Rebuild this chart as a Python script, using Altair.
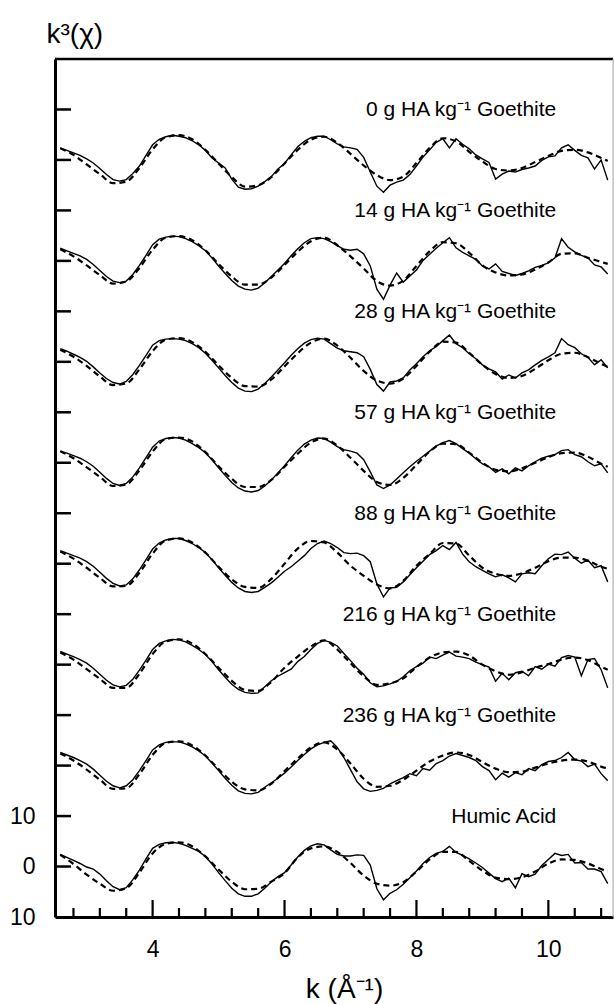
import altair as alt
import pandas as pd

# ---------------- data ----------------
K = [round(2.6 + 0.1 * i, 1) for i in range(84)]                 # measured spectra grid
K_FIT = [round(2.6 + 0.2 * i, 1) for i in range(42)] + [10.9]     # fitted curves grid

NAMES = [
    "0 g HA kg\u207b\u00b9 Goethite",
    "14 g HA kg\u207b\u00b9 Goethite",
    "28 g HA kg\u207b\u00b9 Goethite",
    "57 g HA kg\u207b\u00b9 Goethite",
    "88 g HA kg\u207b\u00b9 Goethite",
    "216 g HA kg\u207b\u00b9 Goethite",
    "236 g HA kg\u207b\u00b9 Goethite",
    "Humic Acid",
]
OFFSETS = [140, 120, 100, 80, 60, 40, 20, 0]

EXP_0 = [2.4, 1.9, 1.4, 0.9, 0.2, -0.6, -1.7, -2.9, -3.9, -4.2, -3.9, -2.7, -1.2, 0.9, 3.0, 4.1, 4.6, 4.9, 4.7, 4.4,
         3.8, 3.0, 1.9, 0.4, -0.6, -1.6, -3.8, -5.4, -5.8, -5.7, -5.2, -4.3, -3.3, -1.8,
         -0.7, 1.0, 2.6, 3.7, 4.4, 4.7, 4.7, 4.0, 3.2, 2.6,
         2.4, 2.1, 0.5, -2.4, -5.2, -6.4, -5.0, -4.4, -4.0, -2.9,
         -1.2, 0.6, 2.0, 3.5, 4.2, 2.4, 4.2, 3.1, 2.2, 1.0,
         0.2, -0.5, -3.8, -2.8, -2.2, -2.4, -1.9, -1.6, -1.2, -0.1,
         0.6, 0.8, 2.4, 3.0, 1.9, 0.9, 0.4, -1.8, 0.0, -4.0]
FIT_0 = [2.3, 1.0, -0.9, -2.8, -4.6, -4.3, -1.6, 2.1, 4.5, 4.9, 4.1, 2.0, -0.7, -3.4, -5.3, -5.0, -3.4,
         -0.7, 2.0, 4.0, 4.6, 3.4,
         1.2, -1.1, -3.0, -4.0, -3.3, -0.6, 2.4, 4.3, 3.7, 1.6,
         -0.3, -1.8, -2.1, -1.6, -0.4, 0.8, 1.8, 2.0, 1.5, 0.4, -0.2]

EXP_14 = [2.5, 2.0, 1.5, 1.0, 0.3, -0.7, -1.9, -3.1, -4.0, -4.3, -4.0, -2.7, -0.9, 1.1, 3.2, 4.3, 4.7, 4.9, 4.8, 4.4,
          3.8, 3.0, 2.0, 0.6, -1.0, -2.5, -3.9, -5.0, -5.6, -5.8, -5.4, -4.4, -3.1, -1.8,
          -0.5, 1.0, 2.4, 3.6, 4.4, 4.6, 4.4, 3.8, 3.0, 2.3,
          2.1, 2.3, 1.4, -1.0, -5.6, -7.6, -4.8, -2.4, -4.2, -3.0,
          -1.8, 0.1, 1.3, 2.5, 3.6, 4.6, 2.6, 1.7, 1.0, 0.3,
          -1.0, -1.6, -0.6, -2.1, -2.5, -2.9, -2.5, -2.0, -1.3, -0.9,
          -0.4, 0.6, 4.4, 2.7, 1.8, 1.1, 0.6, -0.8, -1.2, -2.6]
FIT_14 = [2.3, 0.9, -0.9, -2.8, -4.5, -4.1, -1.4, 2.2, 4.6, 4.9, 4.1, 2.1, -0.6, -3.1, -4.7, -4.7, -3.3,
          -0.8, 1.8, 3.9, 4.6, 3.1,
          0.9, -1.5, -4.0, -4.9, -3.9, -1.0, 1.9, 3.7, 3.5, 1.6,
          -0.9, -2.3, -2.9, -2.7, -1.7, -0.3, 1.4, 1.5, 0.6, -0.2, -0.6]

EXP_28 = [2.6, 2.1, 1.5, 0.9, 0.1, -1.0, -2.2, -3.3, -4.1, -4.4, -3.9, -2.5, -0.7, 1.3, 3.3, 4.2, 4.5, 4.6, 4.5, 4.2,
          3.6, 2.8, 1.7, 0.3, -1.2, -2.7, -4.1, -5.2, -5.8, -5.9, -5.4, -4.3, -3.0, -1.6,
          -0.2, 1.3, 2.6, 3.7, 4.4, 4.7, 4.5, 3.6, 2.7, 2.2,
          2.0, 1.8, 1.0, -1.5, -4.5, -5.8, -4.0, -3.8, -3.2, -1.6,
          -0.4, 1.0, 2.2, 3.0, 4.2, 5.3, 3.6, 2.8, 1.6, 0.6,
          -0.6, -1.4, -2.0, -3.4, -2.6, -3.2, -2.2, -1.6, -0.6, 0.3,
          1.0, 1.8, 4.6, 3.4, 2.8, 1.6, 0.9, -0.6, 0.4, -1.2]
FIT_28 = [2.4, 1.0, -0.8, -2.9, -4.6, -4.3, -1.5, 2.1, 4.4, 4.7, 3.9, 2.0, -0.7, -3.2, -4.8, -4.9, -3.5,
          -0.9, 1.7, 3.8, 4.6, 3.2,
          0.8, -1.8, -3.7, -4.3, -3.3, -0.8, 2.0, 4.0, 3.8, 1.8,
          -0.6, -2.4, -3.2, -2.8, -1.4, 0.3, 1.6, 1.8, 0.9, -0.4, -1.0]

EXP_57 = [2.3, 1.9, 1.4, 0.9, 0.2, -0.7, -1.9, -3.1, -4.1, -4.5, -4.1, -2.8, -1.0, 1.0, 3.1, 4.3, 4.8, 5.0, 4.9, 4.5,
          3.8, 3.0, 2.0, 0.6, -1.0, -2.5, -3.9, -5.0, -5.6, -5.8, -5.5, -4.6, -3.4, -2.0,
          -0.6, 1.0, 2.5, 3.7, 4.5, 4.9, 4.8, 4.1, 3.2, 2.6,
          2.3, 1.9, 0.6, -1.8, -4.4, -5.1, -4.4, -3.2, -2.0, -0.8,
          0.3, 1.3, 2.3, 3.3, 4.0, 4.4, 3.8, 2.8, 1.9, 0.8,
          -0.2, -0.8, -1.9, -1.2, -2.2, -1.0, -1.6, -0.6, 0.2, 0.9,
          1.3, 1.6, 2.4, 2.6, 1.6, 1.2, 0.2, -0.6, -0.2, -2.0]
FIT_57 = [2.3, 0.9, -0.9, -2.8, -4.6, -4.3, -1.5, 2.2, 4.7, 5.0, 4.2, 2.1, -0.7, -3.2, -4.8, -4.8, -3.4,
          -0.8, 1.8, 4.0, 4.8, 3.4,
          1.0, -1.6, -3.8, -4.4, -3.0, -0.4, 2.2, 3.8, 3.7, 2.0,
          0.0, -1.4, -1.7, -1.1, 0.0, 1.1, 1.9, 2.0, 1.2, -0.2, -0.8]

EXP_88 = [2.6, 2.1, 1.6, 1.1, 0.4, -0.5, -1.7, -2.9, -3.9, -4.4, -4.2, -3.0, -1.2, 0.8, 2.9, 4.1, 4.7, 5.0, 5.0, 4.6,
          4.0, 3.2, 2.2, 0.8, -0.8, -2.3, -3.7, -4.8, -5.5, -5.7, -5.5, -4.7, -3.8, -2.7,
          -1.5, -0.6, 0.5, 1.6, 3.0, 4.0, 4.5, 4.0, 3.2, 2.2,
          2.0, 2.1, 1.6, 0.4, -4.0, -6.6, -4.8, -4.7, -3.6, -2.2,
          -0.8, 0.5, 1.8, 2.6, 3.6, 2.8, 4.2, 1.9, 0.4, -0.6,
          -1.3, -2.0, -2.6, -2.2, -2.8, -3.6, -2.0, -1.8, -2.0, -0.4,
          1.0, 1.9, 1.8, 2.3, 1.1, 0.1, 0.7, -0.8, -0.4, -3.6]
FIT_88 = [2.4, 1.0, -0.8, -2.8, -4.5, -4.4, -1.8, 2.0, 4.6, 5.0, 4.2, 2.2, -0.6, -3.1, -4.6, -4.8, -3.0,
          0.0, 3.0, 4.5, 4.2, 2.2,
          -0.4, -2.4, -4.1, -4.9, -3.4, -0.4, 1.9, 4.1, 4.0, 1.6,
          -0.8, -2.0, -2.4, -1.9, -0.8, 0.5, 1.2, 1.2, 0.6, -0.6, -1.0]

EXP_216 = [2.6, 2.1, 1.6, 1.0, 0.3, -0.7, -1.9, -3.1, -4.0, -4.4, -4.1, -2.9, -1.1, 0.9, 3.0, 4.2, 4.7, 5.0, 4.9, 4.5,
           3.8, 3.0, 2.0, 0.6, -1.0, -2.5, -3.9, -4.9, -5.5, -5.7, -5.6, -4.4, -3.2, -2.3,
           -1.6, -0.9, 0.6, 1.6, 3.0, 4.2, 4.8, 4.4, 3.7, 2.2,
           0.8, -0.7, -1.9, -3.6, -4.4, -4.2, -3.8, -3.3, -2.4, -1.2,
           -0.4, 0.3, 1.5, 1.2, 1.9, 2.5, 1.7, 1.5, 1.2, 0.5,
           0.0, -0.5, -3.3, -1.7, -3.0, -1.6, -1.3, -2.2, -0.4, -0.9,
           0.1, -0.3, 1.4, 1.8, 1.5, -2.2, 1.0, 1.2, -1.0, -4.6]
FIT_216 = [2.4, 1.0, -0.9, -2.8, -4.6, -4.6, -1.8, 2.1, 4.6, 5.0, 4.2, 2.1, -0.6, -3.2, -5.0, -5.2, -3.4,
           -0.6, 1.6, 3.6, 4.8, 3.0,
           0.3, -2.3, -4.0, -3.7, -2.7, -0.5, 1.4, 2.4, 2.6, 1.8,
           0.0, -1.3, -2.0, -1.5, -0.6, 0.1, 1.0, 1.4, 0.9, -0.4, -1.0]

EXP_236 = [2.6, 2.1, 1.6, 1.0, 0.3, -0.7, -1.9, -3.1, -4.0, -4.4, -4.0, -2.8, -1.0, 1.0, 3.1, 4.1, 4.6, 4.7, 4.7, 4.3,
           3.7, 2.9, 1.9, 0.5, -1.0, -2.5, -3.9, -5.0, -5.5, -5.6, -5.3, -4.3, -3.4, -2.5,
           -1.5, -0.3, 1.0, 2.2, 3.3, 4.1, 4.6, 4.9, 3.6, 1.6,
           -0.8, -3.2, -4.6, -5.1, -4.9, -4.5, -3.6, -3.0, -2.4, -1.6,
           -2.0, -0.6, -0.9, 0.4, 1.0, 1.9, 2.4, 2.0, 1.6, 1.0,
           -0.2, -1.0, -2.8, -1.5, -2.3, -1.4, -1.8, -0.6, -1.0, 0.2,
           0.8, 1.0, 1.6, 2.6, 1.2, 0.9, -0.2, 0.3, -1.6, -3.0]
FIT_236 = [2.4, 1.0, -0.8, -2.8, -4.6, -4.5, -1.7, 2.1, 4.5, 4.8, 4.0, 2.0, -0.7, -3.2, -4.7, -4.9, -3.6,
           -1.1, 1.4, 3.6, 4.6, 3.2,
           0.4, -2.6, -4.2, -4.0, -2.8, -1.0, 0.8, 2.0, 2.6, 2.1,
           0.7, -0.6, -1.3, -1.2, -0.4, 0.4, 1.0, 1.2, 0.8, -0.2, -0.6]

EXP_HA = [2.4, 1.8, 1.2, 0.6, -0.1, -0.5, -1.5, -2.8, -4.0, -4.6, -4.2, -2.6, -0.7, 1.5, 3.6, 4.4, 4.7, 4.8, 4.6, 4.2,
          3.6, 3.0, 2.0, 0.5, -1.2, -2.8, -4.3, -5.4, -5.9, -5.9, -5.4, -4.3, -3.0, -2.0,
          -1.2, 0.3, 1.9, 3.2, 4.1, 4.5, 4.3, 3.3, 2.4, 2.1,
          2.1, 2.3, 2.2, 0.3, -4.4, -6.6, -5.3, -4.6, -3.5, -2.2,
          -0.9, 0.6, 1.8, 2.6, 3.0, 4.0, 2.8, 2.2, 1.5, 0.7,
          -0.2, -1.3, -2.4, -3.0, -2.3, -4.2, -1.4, -2.0, -1.5, 0.2,
          1.4, 2.6, 2.2, 2.4, 0.7, 0.8, -0.5, -0.5, -1.0, -3.4]
FIT_HA = [2.3, 0.5, -1.6, -3.4, -4.8, -4.3, -1.2, 2.6, 4.5, 4.8, 4.0, 2.0, -0.6, -3.0, -4.5, -4.4, -3.0,
          -1.3, 1.8, 3.6, 4.0, 2.9,
          0.7, -1.8, -3.4, -3.8, -3.1, -1.0, 1.4, 2.9, 2.9, 1.1,
          -0.8, -2.2, -2.5, -2.1, -1.0, 0.6, 1.4, 1.3, 0.6, -0.5, -1.0]

EXP = [EXP_0, EXP_14, EXP_28, EXP_57, EXP_88, EXP_216, EXP_236, EXP_HA]
FIT = [FIT_0, FIT_14, FIT_28, FIT_57, FIT_88, FIT_216, FIT_236, FIT_HA]

X_MAJOR = [4, 6, 8, 10]
X_MINOR = [2.8, 3.2, 3.6, 4.4, 4.8, 5.2, 5.6, 6.4, 6.8, 7.2, 7.6, 8.4, 8.8, 9.2, 9.6, 10.4, 10.8]
Y_TICKS = [0, 10, 20, 30, 40, 50, 60, 70, 80, 90, 100, 110, 120, 130, 140, 150]
Y_LABELS = [-10, 0, 10]

# ---------------- tables ----------------
exp_rows, fit_rows = [], []
for name, off, e, f in zip(NAMES, OFFSETS, EXP, FIT):
    assert len(e) == len(K) and len(f) == len(K_FIT), name
    exp_rows += [{"series": name, "k": k, "v": v + off} for k, v in zip(K, e)]
    fit_rows += [{"series": name, "k": k, "v": v + off} for k, v in zip(K_FIT, f)]
exp_df = pd.DataFrame(exp_rows)
fit_df = pd.DataFrame(fit_rows)
lab_df = pd.DataFrame({"series": NAMES, "ly": [o + 9.8 for o in OFFSETS]})

W, H = 558, 858
FONT = "Liberation Sans"

xscale = alt.Scale(domain=[2.52, 10.98], nice=False, zero=False)
yscale = alt.Scale(domain=[-10, 160], nice=False, zero=False)

x_axis = alt.Axis(values=X_MAJOR, format="d", ticks=False, tickSize=0, grid=False, domain=True,
                  domainColor="black", domainWidth=3, labelFontSize=23, labelFont=FONT,
                  labelColor="black", labelPadding=21, labelFlush=False,
                  title="k (\u00c5\u207b\u00b9)", titleFont=FONT, titleFontSize=28,
                  titleFontWeight="normal", titleColor="black", titleX=289, titleY=80,
                  titleAlign="center", titleBaseline="alphabetic")
y_axis = alt.Axis(values=Y_LABELS, ticks=False, tickSize=0, grid=False, domain=True,
                  domainColor="black", domainWidth=3, labelFontSize=23, labelFont=FONT,
                  labelColor="black", labelPadding=20, labelBaseline="middle",
                  labelExpr="datum.value == 0 ? '0' : '10'",
                  title="k\u00b3(\u03c7)", titleFont=FONT, titleFontSize=28,
                  titleFontWeight="normal", titleColor="black", titleAngle=0,
                  titleX=-9, titleY=-17, titleAlign="left", titleBaseline="alphabetic")

solid = alt.Chart(exp_df).mark_line(color="black", strokeWidth=1.4, clip=True).encode(
    x=alt.X("k:Q", scale=xscale, axis=x_axis),
    y=alt.Y("v:Q", scale=yscale, axis=y_axis),
    detail="series:N",
)
dashed = alt.Chart(fit_df).mark_line(color="black", strokeWidth=2.2, strokeDash=[6, 4],
                                     interpolate="monotone", clip=True).encode(
    x=alt.X("k:Q", scale=xscale),
    y=alt.Y("v:Q", scale=yscale),
    detail="series:N",
)
labels = alt.Chart(lab_df).mark_text(align="right", baseline="middle", font=FONT, fontSize=21,
                                     color="black").encode(
    x=alt.datum(10.12),
    y=alt.Y("ly:Q", scale=yscale),
    text="series:N",
)
xmaj = alt.Chart(pd.DataFrame({"t": X_MAJOR})).mark_rule(color="black", strokeWidth=2.2).encode(
    x=alt.X("t:Q", scale=xscale), y=alt.value(H), y2=alt.value(H - 17))
xmin = alt.Chart(pd.DataFrame({"t": X_MINOR})).mark_rule(color="black", strokeWidth=2.2).encode(
    x=alt.X("t:Q", scale=xscale), y=alt.value(H), y2=alt.value(H - 9))
ytk = alt.Chart(pd.DataFrame({"t": Y_TICKS})).mark_rule(color="black", strokeWidth=2.5).encode(
    y=alt.Y("t:Q", scale=yscale), x=alt.value(0), x2=alt.value(16))
frame = alt.Chart(pd.DataFrame({"a": [0]}))
top = frame.mark_rule(color="black", strokeWidth=2.5).encode(
    x=alt.value(0), x2=alt.value(W), y=alt.value(0))
right = frame.mark_rule(color="#b0b0b0", strokeWidth=1).encode(
    x=alt.value(W), y=alt.value(0), y2=alt.value(H))

chart = alt.layer(solid, dashed, labels, xmaj, xmin, ytk, top, right).properties(
    width=W, height=H,
    autosize=alt.AutoSizeParams(type="none"),
    padding={"left": 55, "top": 59, "right": 1, "bottom": 87},
).configure_view(stroke=None).configure(background="white")

chart.save("out.html", embed_options={"renderer": "svg", "actions": False})
